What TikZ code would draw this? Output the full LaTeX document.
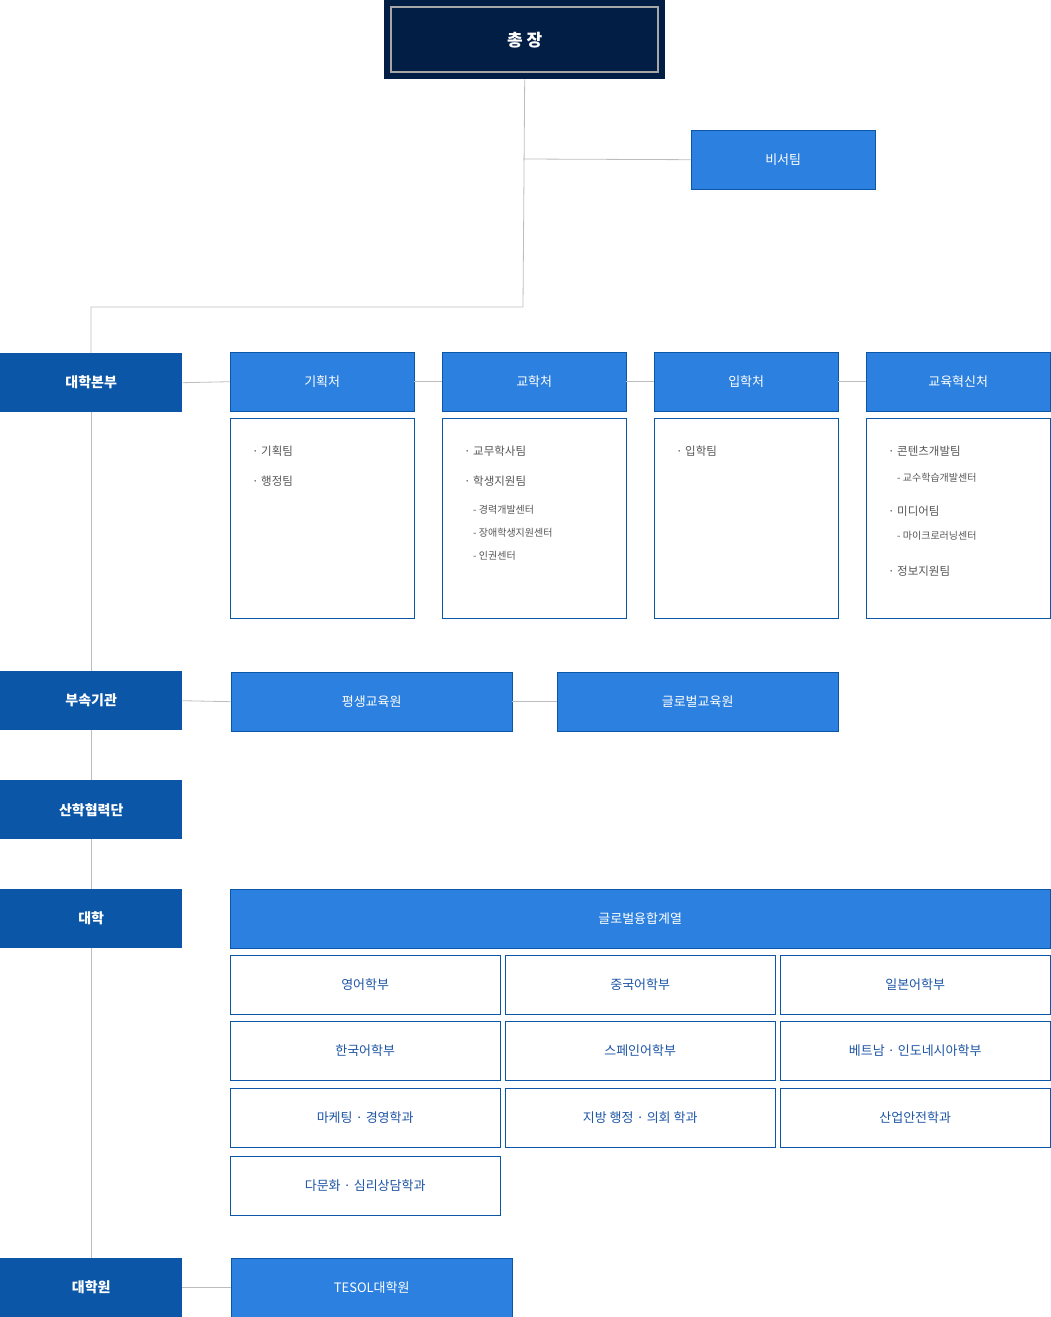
\documentclass[tikz,border=0pt]{standalone}
\usepackage{fontspec}
\setmainfont{Noto Sans CJK KR}
\definecolor{navy}{HTML}{021E45}
\definecolor{hdblue}{HTML}{2C80DF}
\definecolor{sideblue}{HTML}{0B56A6}
\definecolor{lnk}{HTML}{BDBDBD}
\definecolor{txtblue}{HTML}{1E55A5}
\definecolor{txtgray}{HTML}{555555}
\begin{document}
\begin{tikzpicture}[x=1pt,y=-1pt,
  side/.style={fill=sideblue,text=white,font=\bfseries\fontsize{14}{14}\selectfont,anchor=north west,inner sep=0,minimum width=182pt,minimum height=59pt},
  hd/.style={fill=hdblue,draw=sideblue,text=white,font=\fontsize{13}{13}\selectfont,anchor=north west,inner sep=0,minimum height=59pt},
  sub/.style={draw=sideblue,fill=white,text=txtblue,font=\fontsize{13}{13}\selectfont,anchor=north west,inner sep=0,minimum width=270pt,minimum height=59pt},
  listbox/.style={draw=sideblue,anchor=north west,inner sep=0,minimum width=184pt,minimum height=200pt},
  item/.style={anchor=west,text=txtgray,font=\fontsize{11.5}{11.5}\selectfont,inner sep=0},
  subitem/.style={anchor=west,text=txtgray,font=\fontsize{10}{10}\selectfont,inner sep=0},
  link/.style={draw=lnk,line width=0.8pt}]
\useasboundingbox (0,0) rectangle (1050,1317);
% top
\node[fill=navy,anchor=north west,inner sep=0,minimum width=281pt,minimum height=79pt] (chong) at (384,0) {};
\draw[gray!70,line width=1.5pt] (391,7) rectangle (658,72);
\node[text=white,font=\bfseries\fontsize{17}{17}\selectfont] at (chong.center) {총 장};
\node[hd,minimum width=184pt] (biseo) at (691,130) {비서팀};
\coordinate (c1) at (523,159);
\coordinate (c2) at (523,307);
\coordinate (c3) at (91,307);
% left column
\node[side] (bonbu) at (0,353) {대학본부};
\node[side] (busok) at (0,671) {부속기관};
\node[side] (sanhak) at (0,780) {산학협력단};
\node[side] (daehak) at (0,889) {대학};
\node[side] (daehakwon) at (0,1258) {대학원};
% headquarters
\node[hd,minimum width=184pt] (gihoek) at (230,352) {기획처};
\node[hd,minimum width=184pt] (gyohak) at (442,352) {교학처};
\node[hd,minimum width=184pt] (iphak) at (654,352) {입학처};
\node[hd,minimum width=184pt] (hyeoksin) at (866,352) {교육혁신처};
\node[listbox] (l1) at (230,418) {};
\node[listbox] (l2) at (442,418) {};
\node[listbox] (l3) at (654,418) {};
\node[listbox] (l4) at (866,418) {};
\node[item] (a1) at (252,451) {· 기획팀};
\node[item] (a2) at (252,481) {· 행정팀};
\node[item] (b1) at (464,451) {· 교무학사팀};
\node[item] (b2) at (464,481) {· 학생지원팀};
\node[subitem] (b3) at (473,510) {- 경력개발센터};
\node[subitem] (b4) at (473,533) {- 장애학생지원센터};
\node[subitem] (b5) at (473,556) {- 인권센터};
\node[item] (c1t) at (676,451) {· 입학팀};
\node[item] (d1) at (888,451) {· 콘텐츠개발팀};
\node[subitem] (d2) at (897,478) {- 교수학습개발센터};
\node[item] (d3) at (888,511) {· 미디어팀};
\node[subitem] (d4) at (897,536) {- 마이크로러닝센터};
\node[item] (d5) at (888,571) {· 정보지원팀};
% institutes
\node[hd,minimum width=281pt] (pyeongsaeng) at (231,672) {평생교육원};
\node[hd,minimum width=281pt] (global) at (557,672) {글로벌교육원};
% college
\node[hd,minimum width=820pt] (yunghap) at (230,889) {글로벌융합계열};
\node[sub] (s1) at (230,955) {영어학부};
\node[sub] (s2) at (505,955) {중국어학부};
\node[sub] (s3) at (780,955) {일본어학부};
\node[sub] (s4) at (230,1021) {한국어학부};
\node[sub] (s5) at (505,1021) {스페인어학부};
\node[sub] (s6) at (780,1021) {베트남 · 인도네시아학부};
\node[sub] (s7) at (230,1088) {마케팅 · 경영학과};
\node[sub] (s8) at (505,1088) {지방 행정 · 의회 학과};
\node[sub] (s9) at (780,1088) {산업안전학과};
\node[sub] (s10) at (230,1156) {다문화 · 심리상담학과};
% graduate
\node[hd,minimum width=281pt] (tesol) at (231,1258) {TESOL대학원};
% links
\begin{scope}[on background layer/.style={}]
\draw[link] (chong.south) -- (c2) -- (c3) -- (bonbu.north -| c3);
\draw[link] (c1) -- (biseo.west);
\draw[link] (bonbu.south -| c3) -- (busok.north -| c3);
\draw[link] (busok.south -| c3) -- (sanhak.north -| c3);
\draw[link] (sanhak.south -| c3) -- (daehak.north -| c3);
\draw[link] (daehak.south -| c3) -- (daehakwon.north -| c3);
\draw[link] (bonbu.east) -- (gihoek.west);
\draw[link] (gihoek.east) -- (gyohak.west);
\draw[link] (gyohak.east) -- (iphak.west);
\draw[link] (iphak.east) -- (hyeoksin.west);
\draw[link] (busok.east) -- (pyeongsaeng.west);
\draw[link] (pyeongsaeng.east) -- (global.west);
\draw[link] (daehakwon.east) -- (tesol.west);
\end{scope}
\end{tikzpicture}
\end{document}
